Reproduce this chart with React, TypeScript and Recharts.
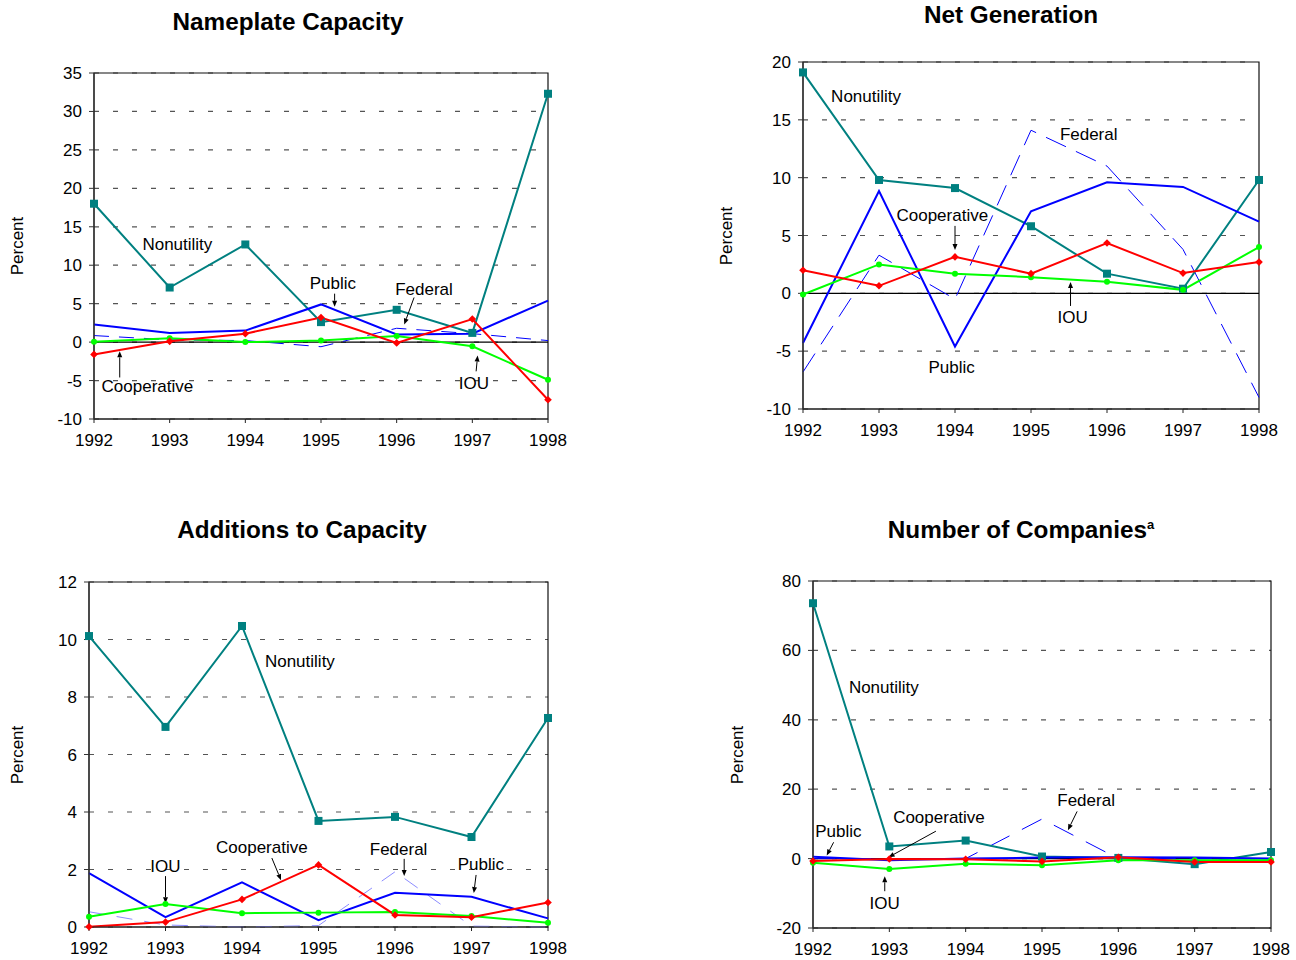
import React from 'react';
import {
  LineChart,
  Line,
  XAxis,
  YAxis,
  CartesianGrid,
  ReferenceLine,
  ReferenceDot,
  ReferenceArea,
} from 'recharts';

const years = [1992, 1993, 1994, 1995, 1996, 1997, 1998];

// Nameplate Capacity (percent change)
const capNonutility = [18.0, 7.1, 12.7, 2.6, 4.2, 1.2, 32.3];
const capPublic = [2.3, 1.2, 1.5, 4.9, 1.0, 1.1, 5.4];
const capCooperative = [-1.6, 0.1, 1.1, 3.2, -0.1, 3.0, -7.5];
const capIOU = [0.05, 0.5, 0.0, 0.2, 0.8, -0.55, -4.9];
const capFederal = [0.85, 0.3, 0.2, -0.6, 1.8, 1.1, 0.2];

// Net Generation
const genNonutility = [19.1, 9.8, 9.1, 5.8, 1.7, 0.4, 9.8];
const genPublic = [-4.3, 8.85, -4.6, 7.1, 9.6, 9.2, 6.2];
const genCooperative = [2.0, 0.65, 3.15, 1.7, 4.35, 1.75, 2.7];
const genIOU = [-0.1, 2.5, 1.7, 1.4, 1.0, 0.3, 4.0];
const genFederal = [-6.8, 3.3, -0.5, 14.1, 11.0, 3.8, -9.0];

// Additions to Capacity
const addNonutility = [10.12, 6.96, 10.47, 3.69, 3.83, 3.13, 7.27];
const addPublic = [1.87, 0.34, 1.55, 0.24, 1.19, 1.05, 0.3];
const addCooperative = [0.01, 0.17, 0.96, 2.16, 0.42, 0.34, 0.85];
const addIOU = [0.36, 0.8, 0.48, 0.5, 0.52, 0.38, 0.15];
const addFederal = [0.53, 0.07, 0.0, 0.05, 1.92, 0.03, 0.0];

// Number of Companies
const cmpNonutility = [73.6, 3.5, 5.2, 0.6, 0.2, -1.6, 1.9];
const cmpPublic = [0.5, -0.5, 0.0, 0.3, 0.4, 0.3, 0.0];
const cmpCooperative = [-0.7, -0.1, -0.2, -0.8, 0.4, -1.0, -1.0];
const cmpIOU = [-1.2, -3.0, -1.5, -1.9, -0.5, -0.5, -0.5];
const cmpFederal = [0.0, 0.0, 0.0, 11.4, 0.0, 0.0, 0.0];

const capTicks = [-10, -5, 0, 5, 10, 15, 20, 25, 30, 35];
const genTicks = [-10, -5, 0, 5, 10, 15, 20];
const addTicks = [0, 2, 4, 6, 8, 10, 12];
const cmpTicks = [-20, 0, 20, 40, 60, 80];

const FONT = '"Liberation Sans", Arial, Helvetica, sans-serif';
const TEAL = '#008080';
const RED = '#ff0000';
const GREEN = '#00ff00';
const BLUE = '#0000ff';

type Ann = { text: string; x: number; y: number };
type Arrow = { x1: number; y1: number; x2: number; y2: number };

function rows(nonutility: number[], pub: number[], coop: number[], iou: number[], fed: number[]) {
  return years.map((yr, i) => ({
    year: yr,
    nonutility: nonutility[i],
    public: pub[i],
    cooperative: coop[i],
    iou: iou[i],
    federal: fed[i],
  }));
}

const squareDot = (p: any) => {
  if (p.cx == null || p.cy == null) return <g key={`s${p.index}`} />;
  return <rect key={`s${p.index}`} x={p.cx - 4} y={p.cy - 4} width={8} height={8} fill={TEAL} />;
};
const diamondDot = (p: any) => {
  if (p.cx == null || p.cy == null) return <g key={`d${p.index}`} />;
  const r = 3.8;
  return (
    <polygon
      key={`d${p.index}`}
      points={`${p.cx},${p.cy - r} ${p.cx + r},${p.cy} ${p.cx},${p.cy + r} ${p.cx - r},${p.cy}`}
      fill={RED}
    />
  );
};
const circleDot = (p: any) => {
  if (p.cx == null || p.cy == null) return <g key={`c${p.index}`} />;
  return <circle key={`c${p.index}`} cx={p.cx} cy={p.cy} r={3} fill={GREEN} />;
};

const ArrowShape = (p: any) => {
  const { x1, y1, x2, y2 } = p;
  const dx = x2 - x1;
  const dy = y2 - y1;
  const len = Math.hypot(dx, dy) || 1;
  const ux = dx / len;
  const uy = dy / len;
  const hl = 6;
  const hw = 2.5;
  const bx = x2 - ux * hl;
  const by = y2 - uy * hl;
  const pts = `${x2},${y2} ${bx - uy * hw},${by + ux * hw} ${bx + uy * hw},${by - ux * hw}`;
  return (
    <g>
      <line x1={x1} y1={y1} x2={bx} y2={by} stroke="#000" strokeWidth={1} />
      <polygon points={pts} fill="#000" />
    </g>
  );
};

const makeLabel = (text: string) => (p: any) => (
  <text
    x={p.cx}
    y={p.cy}
    dy="0.35em"
    textAnchor="start"
    fontSize={17}
    fontFamily={FONT}
    fill="#000"
  >
    {text}
  </text>
);

type PanelProps = {
  title: React.ReactNode;
  titleX: number;
  titleY: number;
  x0: number;
  y0: number;
  x1: number;
  y1: number;
  percentX: number;
  domain: [number, number];
  ticks: number[];
  data: any[];
  fedColor: string;
  fedDash: string;
  zeroLine: boolean;
  labels: Ann[];
  arrows: Arrow[];
};

function Panel(props: PanelProps) {
  const { x0, y0, x1, y1 } = props;
  const padL = 80;
  const padT = 15;
  const padR = 30;
  const padB = 40;
  const w = x1 - x0 + padL + padR;
  const h = y1 - y0 + padT + padB;
  return (
    <>
      <div
        style={{
          position: 'absolute',
          left: props.titleX - 300,
          top: props.titleY - 14,
          width: 600,
          height: 28,
          lineHeight: '28px',
          textAlign: 'center',
          fontWeight: 'bold',
          fontSize: 24.3,
          fontFamily: FONT,
          color: '#000',
          whiteSpace: 'nowrap',
        }}
      >
        {props.title}
      </div>
      <div
        style={{
          position: 'absolute',
          left: props.percentX,
          top: (y0 + y1) / 2,
          transform: 'translate(-50%, -50%) rotate(-90deg)',
          fontSize: 17,
          fontFamily: FONT,
          color: '#000',
          whiteSpace: 'nowrap',
        }}
      >
        Percent
      </div>
      <div style={{ position: 'absolute', left: x0 - padL, top: y0 - padT }}>
        <LineChart
          width={w}
          height={h}
          data={props.data}
          margin={{ top: padT, right: padR, bottom: padB - 30, left: 0 }}
        >
          <CartesianGrid vertical={false} stroke="#555" strokeDasharray="5 14" strokeWidth={1.2} />
          <XAxis
            dataKey="year"
            type="number"
            domain={[1992, 1998]}
            ticks={years}
            interval={0}
            height={30}
            allowDecimals={false}
            axisLine={{ stroke: '#222', strokeWidth: 1.2 }}
            tickLine={{ stroke: '#222' }}
            tickSize={4}
            tickMargin={11}
            tick={{ fontSize: 17, fill: '#000', fontFamily: FONT }}
          />
          <YAxis
            type="number"
            domain={props.domain}
            ticks={props.ticks}
            interval={0}
            width={padL}
            axisLine={{ stroke: '#333', strokeWidth: 1.2 }}
            tickLine={{ stroke: '#333' }}
            tickSize={5}
            tickMargin={7}
            tick={{ fontSize: 17, fill: '#000', fontFamily: FONT }}
          />
          <ReferenceArea
            x1={1992}
            x2={1998}
            y1={props.domain[0]}
            y2={props.domain[1]}
            fill="none"
            fillOpacity={0}
            stroke="#111"
            strokeWidth={1.2}
            ifOverflow="visible"
          />
          {props.zeroLine && <ReferenceLine y={0} stroke="#000" strokeWidth={1.2} />}
          <Line
            type="linear"
            dataKey="federal"
            stroke={props.fedColor}
            strokeWidth={1}
            strokeDasharray={props.fedDash}
            dot={false}
            activeDot={false}
            isAnimationActive={false}
          />
          <Line
            type="linear"
            dataKey="nonutility"
            stroke={TEAL}
            strokeWidth={2}
            dot={squareDot}
            activeDot={false}
            isAnimationActive={false}
          />
          <Line
            type="linear"
            dataKey="public"
            stroke={BLUE}
            strokeWidth={2}
            dot={false}
            activeDot={false}
            isAnimationActive={false}
          />
          <Line
            type="linear"
            dataKey="iou"
            stroke={GREEN}
            strokeWidth={2}
            dot={circleDot}
            activeDot={false}
            isAnimationActive={false}
          />
          <Line
            type="linear"
            dataKey="cooperative"
            stroke={RED}
            strokeWidth={2}
            dot={diamondDot}
            activeDot={false}
            isAnimationActive={false}
          />
          {props.arrows.map((a, i) => (
            <ReferenceLine
              key={`a${i}`}
              segment={[
                { x: a.x1, y: a.y1 },
                { x: a.x2, y: a.y2 },
              ]}
              ifOverflow="visible"
              shape={ArrowShape}
            />
          ))}
          {props.labels.map((l, i) => (
            <ReferenceDot
              key={`l${i}`}
              x={l.x}
              y={l.y}
              r={0}
              ifOverflow="visible"
              shape={makeLabel(l.text)}
            />
          ))}
        </LineChart>
      </div>
    </>
  );
}

const capLabels: Ann[] = [
  { text: 'Nonutility', x: 1992.64, y: 12.8 },
  { text: 'Public', x: 1994.85, y: 7.7 },
  { text: 'Federal', x: 1995.98, y: 6.95 },
  { text: 'Cooperative', x: 1992.1, y: -5.65 },
  { text: 'IOU', x: 1996.82, y: -5.3 },
];
const capArrows: Arrow[] = [
  { x1: 1995.18, y1: 6.3, x2: 1995.18, y2: 4.6 },
  { x1: 1996.23, y1: 5.8, x2: 1996.1, y2: 2.3 },
  { x1: 1992.34, y1: -4.6, x2: 1992.34, y2: -1.2 },
  { x1: 1997.05, y1: -3.8, x2: 1997.07, y2: -1.75 },
];

const genLabels: Ann[] = [
  { text: 'Nonutility', x: 1992.37, y: 17.06 },
  { text: 'Federal', x: 1995.38, y: 13.78 },
  { text: 'Cooperative', x: 1993.23, y: 6.78 },
  { text: 'IOU', x: 1995.35, y: -2.04 },
  { text: 'Public', x: 1993.65, y: -6.36 },
];
const genArrows: Arrow[] = [
  { x1: 1994.0, y1: 5.83, x2: 1994.0, y2: 3.75 },
  { x1: 1995.52, y1: -1.09, x2: 1995.52, y2: 0.99 },
];

const addLabels: Ann[] = [
  { text: 'Nonutility', x: 1994.3, y: 9.25 },
  { text: 'IOU', x: 1992.8, y: 2.12 },
  { text: 'Cooperative', x: 1993.66, y: 2.78 },
  { text: 'Federal', x: 1995.67, y: 2.71 },
  { text: 'Public', x: 1996.82, y: 2.19 },
];
const addArrows: Arrow[] = [
  { x1: 1993.0, y1: 1.77, x2: 1993.0, y2: 0.83 },
  { x1: 1994.39, y1: 2.4, x2: 1994.51, y2: 1.63 },
  { x1: 1996.12, y1: 2.37, x2: 1996.12, y2: 1.77 },
  { x1: 1997.06, y1: 1.81, x2: 1997.03, y2: 1.18 },
];

const cmpLabels: Ann[] = [
  { text: 'Nonutility', x: 1992.47, y: 49.5 },
  { text: 'Public', x: 1992.03, y: 7.9 },
  { text: 'Cooperative', x: 1993.05, y: 11.9 },
  { text: 'Federal', x: 1995.2, y: 16.8 },
  { text: 'IOU', x: 1992.74, y: -12.8 },
];
const cmpArrows: Arrow[] = [
  { x1: 1992.27, y1: 4.7, x2: 1992.18, y2: 0.9 },
  { x1: 1993.61, y1: 7.9, x2: 1992.99, y2: 0.4 },
  { x1: 1995.46, y1: 13.6, x2: 1995.34, y2: 8.2 },
  { x1: 1992.94, y1: -9.4, x2: 1992.94, y2: -5.1 },
];

export default function App() {
  return (
    <div
      style={{
        position: 'absolute',
        left: 0,
        top: 0,
        width: 1296,
        height: 960,
        background: '#fff',
        fontFamily: FONT,
        overflow: 'hidden',
      }}
    >
      <Panel
        title="Nameplate Capacity"
        titleX={288}
        titleY={22}
        x0={94}
        y0={73}
        x1={548}
        y1={419}
        percentX={18}
        domain={[-10, 35]}
        ticks={capTicks}
        data={rows(capNonutility, capPublic, capCooperative, capIOU, capFederal)}
        fedColor={BLUE}
        fedDash="15 10"
        zeroLine={true}
        labels={capLabels}
        arrows={capArrows}
      />
      <Panel
        title="Net Generation"
        titleX={1011}
        titleY={15}
        x0={803}
        y0={62}
        x1={1259}
        y1={409}
        percentX={727}
        domain={[-10, 20]}
        ticks={genTicks}
        data={rows(genNonutility, genPublic, genCooperative, genIOU, genFederal)}
        fedColor={BLUE}
        fedDash="22 11"
        zeroLine={true}
        labels={genLabels}
        arrows={genArrows}
      />
      <Panel
        title="Additions to Capacity"
        titleX={302}
        titleY={530}
        x0={89}
        y0={582}
        x1={548}
        y1={927}
        percentX={18}
        domain={[0, 12]}
        ticks={addTicks}
        data={rows(addNonutility, addPublic, addCooperative, addIOU, addFederal)}
        fedColor="#8c8cff"
        fedDash="16 12"
        zeroLine={false}
        labels={addLabels}
        arrows={addArrows}
      />
      <Panel
        title={
          <span>
            Number of Companies<sup style={{ fontSize: 13, verticalAlign: 'super', lineHeight: 0 }}>a</sup>
          </span>
        }
        titleX={1021}
        titleY={530}
        x0={813}
        y0={581}
        x1={1271}
        y1={928}
        percentX={738}
        domain={[-20, 80]}
        ticks={cmpTicks}
        data={rows(cmpNonutility, cmpPublic, cmpCooperative, cmpIOU, cmpFederal)}
        fedColor={BLUE}
        fedDash="22 14"
        zeroLine={true}
        labels={cmpLabels}
        arrows={cmpArrows}
      />
    </div>
  );
}
